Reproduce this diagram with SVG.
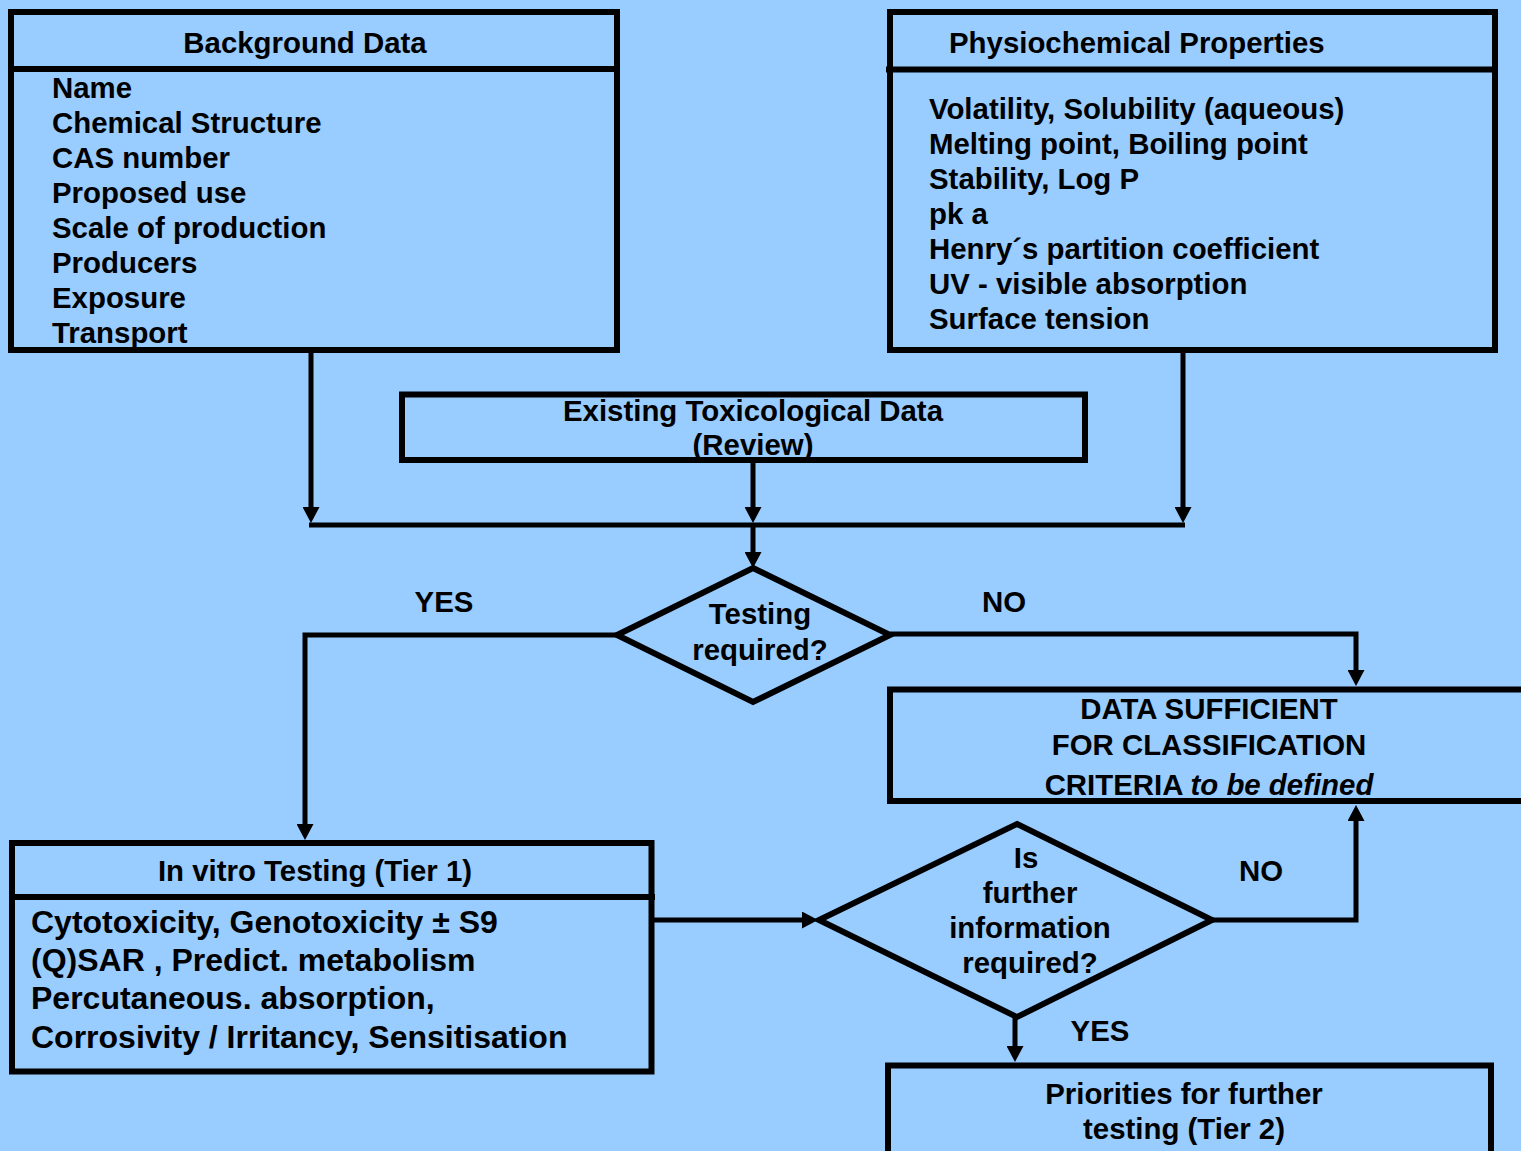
<svg xmlns="http://www.w3.org/2000/svg" width="1521" height="1151" viewBox="0 0 1521 1151">
<style>
.box{fill:none;stroke:#000;stroke-width:6}
.ln{fill:none;stroke:#000;stroke-width:5}
.t{font-family:"Liberation Sans",Arial,sans-serif;font-weight:bold;font-size:29.4px;fill:#000}
.c{text-anchor:middle}
.big{font-size:32px}
</style>
<defs>
<marker id="ah" markerUnits="userSpaceOnUse" markerWidth="16" markerHeight="17" refX="6" refY="8.5" orient="auto">
<path d="M0,0 L16,8.5 L0,17 z" fill="#000"/>
</marker>
</defs>
<rect width="1521" height="1151" fill="#99ccff"/>

<g id="background-data">
<rect class="box" x="11" y="12" width="606" height="338"/>
<path class="box" d="M11,69 H617"/>
<text class="t c" x="305" y="53">Background Data</text>
<text class="t" x="52" y="98">Name</text>
<text class="t" x="52" y="133">Chemical Structure</text>
<text class="t" x="52" y="168">CAS number</text>
<text class="t" x="52" y="203">Proposed use</text>
<text class="t" x="52" y="238">Scale of production</text>
<text class="t" x="52" y="273">Producers</text>
<text class="t" x="52" y="308">Exposure</text>
<text class="t" x="52" y="343">Transport</text>
</g>

<g id="physiochemical">
<rect class="box" x="890" y="12" width="605" height="338"/>
<path class="box" d="M886,69.5 H1495"/>
<text class="t" x="949" y="53">Physiochemical Properties</text>
<text class="t" x="929" y="119">Volatility, Solubility (aqueous)</text>
<text class="t" x="929" y="154">Melting point, Boiling point</text>
<text class="t" x="929" y="189">Stability, Log P</text>
<text class="t" x="929" y="224">pk a</text>
<text class="t" x="929" y="259">Henry´s partition coefficient</text>
<text class="t" x="929" y="294">UV - visible absorption</text>
<text class="t" x="929" y="329">Surface tension</text>
</g>

<g id="existing-tox">
<rect class="box" x="402" y="394.5" width="683" height="65.5"/>
<text class="t c" x="753" y="421">Existing Toxicological Data</text>
<text class="t c" x="753" y="455">(Review)</text>
</g>

<g id="testing-required">
<polygon class="box" points="753,568 890,635 753,702 617,635"/>
<text class="t c" x="760" y="624">Testing</text>
<text class="t c" x="760" y="660">required?</text>
</g>

<g id="data-sufficient">
<rect class="box" x="890" y="689.5" width="700" height="111.5"/>
<text class="t c" x="1209" y="719">DATA SUFFICIENT</text>
<text class="t c" x="1209" y="755">FOR CLASSIFICATION</text>
<text class="t c" x="1209" y="795">CRITERIA <tspan font-style="italic">to be defined</tspan></text>
</g>

<g id="in-vitro">
<rect class="box" x="12" y="843" width="639.5" height="228.5"/>
<path class="box" d="M12,897 H655"/>
<text class="t c" x="315" y="881">In vitro Testing (Tier 1)</text>
<text class="t big" x="31" y="933">Cytotoxicity, Genotoxicity ± S9</text>
<text class="t big" x="31" y="971">(Q)SAR , Predict. metabolism</text>
<text class="t big" x="31" y="1009">Percutaneous. absorption,</text>
<text class="t big" x="31" y="1048">Corrosivity / Irritancy, Sensitisation</text>
</g>

<g id="further-info">
<polygon class="box" points="1017,824 1212,920 1017,1017 819,920"/>
<text class="t c" x="1026" y="868">Is</text>
<text class="t c" x="1030" y="903">further</text>
<text class="t c" x="1030" y="938">information</text>
<text class="t c" x="1030" y="973">required?</text>
</g>

<g id="priorities">
<rect class="box" x="888" y="1065.5" width="603" height="120"/>
<text class="t c" x="1184" y="1104">Priorities for further</text>
<text class="t c" x="1184" y="1139">testing (Tier 2)</text>
</g>

<g id="connectors">
<path class="ln" d="M311,350 V513" marker-end="url(#ah)"/>
<path class="ln" d="M753,460 V513" marker-end="url(#ah)"/>
<path class="ln" d="M1183,350 V513" marker-end="url(#ah)"/>
<path class="ln" d="M309,525 H1185"/>
<path class="ln" d="M753,525 V558" marker-end="url(#ah)"/>
<path class="ln" d="M617,635 H305 V830" marker-end="url(#ah)"/>
<path class="ln" d="M890,634 H1356 V676" marker-end="url(#ah)"/>
<path class="ln" d="M652,920 H808" marker-end="url(#ah)"/>
<path class="ln" d="M1212,920 H1356 V815" marker-end="url(#ah)"/>
<path class="ln" d="M1015,1017 V1052" marker-end="url(#ah)"/>
<text class="t c" x="444" y="612">YES</text>
<text class="t c" x="1004" y="612">NO</text>
<text class="t c" x="1261" y="881">NO</text>
<text class="t c" x="1100" y="1041">YES</text>
</g>
</svg>
